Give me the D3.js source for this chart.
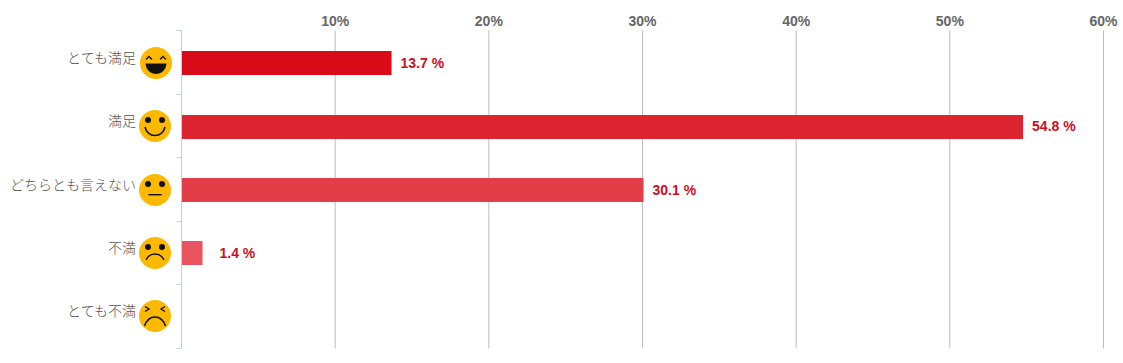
<!DOCTYPE html>
<html>
<head>
<meta charset="utf-8">
<script src="https://cdn.jsdelivr.net/npm/d3@7"></script>
<style>
  html, body { margin: 0; padding: 0; background: #fff; }
  svg { display: block; }
  .cat { font-family: "Noto Sans CJK JP"; font-weight: 300; font-size: 14px; fill: #555; }
  .tick-label { font-family: "Liberation Sans", sans-serif; font-weight: 700; font-size: 14px; fill: #666; }
  .val { font-family: "Liberation Sans", sans-serif; font-weight: 700; font-size: 14px; fill: #cc0f1e; }
</style>
</head>
<body>
<div id="chart"></div>
<script>
var categories = ["とても満足", "満足", "どちらとも言えない", "不満", "とても不満"];
var values = [13.7, 54.8, 30.1, 1.4, 0];
var moods = ["laugh", "smile", "neutral", "sad", "angry"];
var barColors = ["#d80c18", "#dd2531", "#e33d48", "#e85560", "#ec6d76"];
var xTicks = [10, 20, 30, 40, 50, 60];

var width = 1123, height = 363;

var svg = d3.select("#chart").append("svg")
    .attr("width", width)
    .attr("height", height);

var x = d3.scaleLinear().domain([0, 60]).range([181, 1103]);
// y is for the axis ticks, yRow for what sits in the rows (the rows run a bit tighter)
var y = d3.scaleBand().domain(categories).range([30.5, 348.5]);
var yRow = d3.scaleBand().domain(categories).range([31.5, 348.2]);

// gridlines and top labels
var xAxis = d3.axisTop(x).tickValues(xTicks).tickSize(0).tickFormat(function(d){ return d + "%"; });
var gx = svg.append("g").attr("transform", "translate(0,30)").call(xAxis);
gx.select(".domain").remove();
gx.selectAll("text").attr("class", "tick-label").attr("fill", null).attr("y", -4);
gx.selectAll(".tick").append("line")
    .attr("y1", 0.5)
    .attr("y2", 318.5)
    .attr("stroke", "#bdbdbd");

// left axis, ticks sit between the bands
svg.append("line")
    .attr("x1", x(0) + 0.5).attr("x2", x(0) + 0.5)
    .attr("y1", y.range()[0]).attr("y2", y.range()[1])
    .attr("stroke", "#c0d0e0");
var edges = categories.map(function(d){ return y(d); }).concat([y.range()[1]]);
svg.selectAll(".edge").data(edges).enter().append("line")
    .attr("class", "edge")
    .attr("x1", x(0) - 4.5).attr("x2", x(0) + 0.5)
    .attr("y1", function(d){ return Math.floor(d) + 0.5; })
    .attr("y2", function(d){ return Math.floor(d) + 0.5; })
    .attr("stroke", "#c0d0e0");

var barHeight = 24;
function mid(d){ return yRow(d) + yRow.bandwidth() / 2; }

svg.selectAll(".bar").data(categories).enter().append("rect")
    .attr("class", "bar")
    .attr("x", x(0) + 1)
    .attr("y", function(d){ return Math.round(mid(d) - barHeight / 2); })
    .attr("width", function(d, i){ return Math.max(0, x(values[i]) - x(0) - 1); })
    .attr("height", barHeight)
    .attr("fill", function(d, i){ return barColors[i]; });

// value labels, the zero row has none
svg.selectAll(".val").data(categories).enter().append("text")
    .attr("class", "val")
    .attr("x", function(d, i){ return x(values[i]) + (values[i] < 5 ? 17 : 9); })
    .attr("y", function(d){ return Math.round(mid(d) - 0.2) + 5; })
    .text(function(d, i){ return values[i] > 0 ? values[i] + " %" : ""; });

// category names
svg.selectAll(".cat").data(categories).enter().append("text")
    .attr("class", "cat")
    .attr("x", 136)
    .attr("y", function(d){ return Math.round(mid(d) - 0.2); })
    .attr("text-anchor", "end")
    .text(function(d){ return d; });

// faces
var faces = svg.selectAll(".face").data(categories).enter().append("g")
    .attr("class", "face")
    .attr("transform", function(d, i){ return "translate(" + (i == 0 ? 156 : 155) + "," + Math.round(mid(d) - 0.2) + ")"; });

faces.append("circle").attr("r", 16).attr("fill", "#fdb900");

faces.each(function(d, i){
    var g = d3.select(this);
    var mood = moods[i];
    function stroke(path, w){
        g.append("path").attr("d", path).attr("fill", "none").attr("stroke", "#111").attr("stroke-width", w);
    }
    if(mood == "laugh") {
        stroke("M-10,-3.5 L-7,-6.5 L-4,-3.5", 1.3);
        stroke("M4,-3.5 L7,-6.5 L10,-3.5", 1.3);
        g.append("path").attr("d", "M-10.5,0.5 L10.5,0.5 C10,7 5,11 0,11 C-5,11 -10,7 -10.5,0.5 Z").attr("fill", "#111");
    } else if(mood == "angry") {
        stroke("M-10,-9.5 L-6,-7 L-10,-4.5", 1.4);
        stroke("M10,-9.5 L6,-7 L10,-4.5", 1.4);
        stroke("M-10.5,10 C-8,3 -4,1 0,1 C4,1 8,3 10.5,10", 1.5);
    } else {
        g.append("circle").attr("cx", -7).attr("cy", -6).attr("r", 3).attr("fill", "#111");
        g.append("circle").attr("cx", 7).attr("cy", -6).attr("r", 3).attr("fill", "#111");
        if(mood == "smile") stroke("M-10,1 C-9,6 -5,9.5 0,9.5 C5,9.5 9,6 10,1", 1.5);
        if(mood == "neutral") stroke("M-6.7,4.7 L6.7,4.7", 1.4);
        if(mood == "sad") stroke("M-9,6.8 C-7,3 -4,1 0,1 C4,1 7,3 9,6.8", 1.5);
    }
});
</script>
</body>
</html>
